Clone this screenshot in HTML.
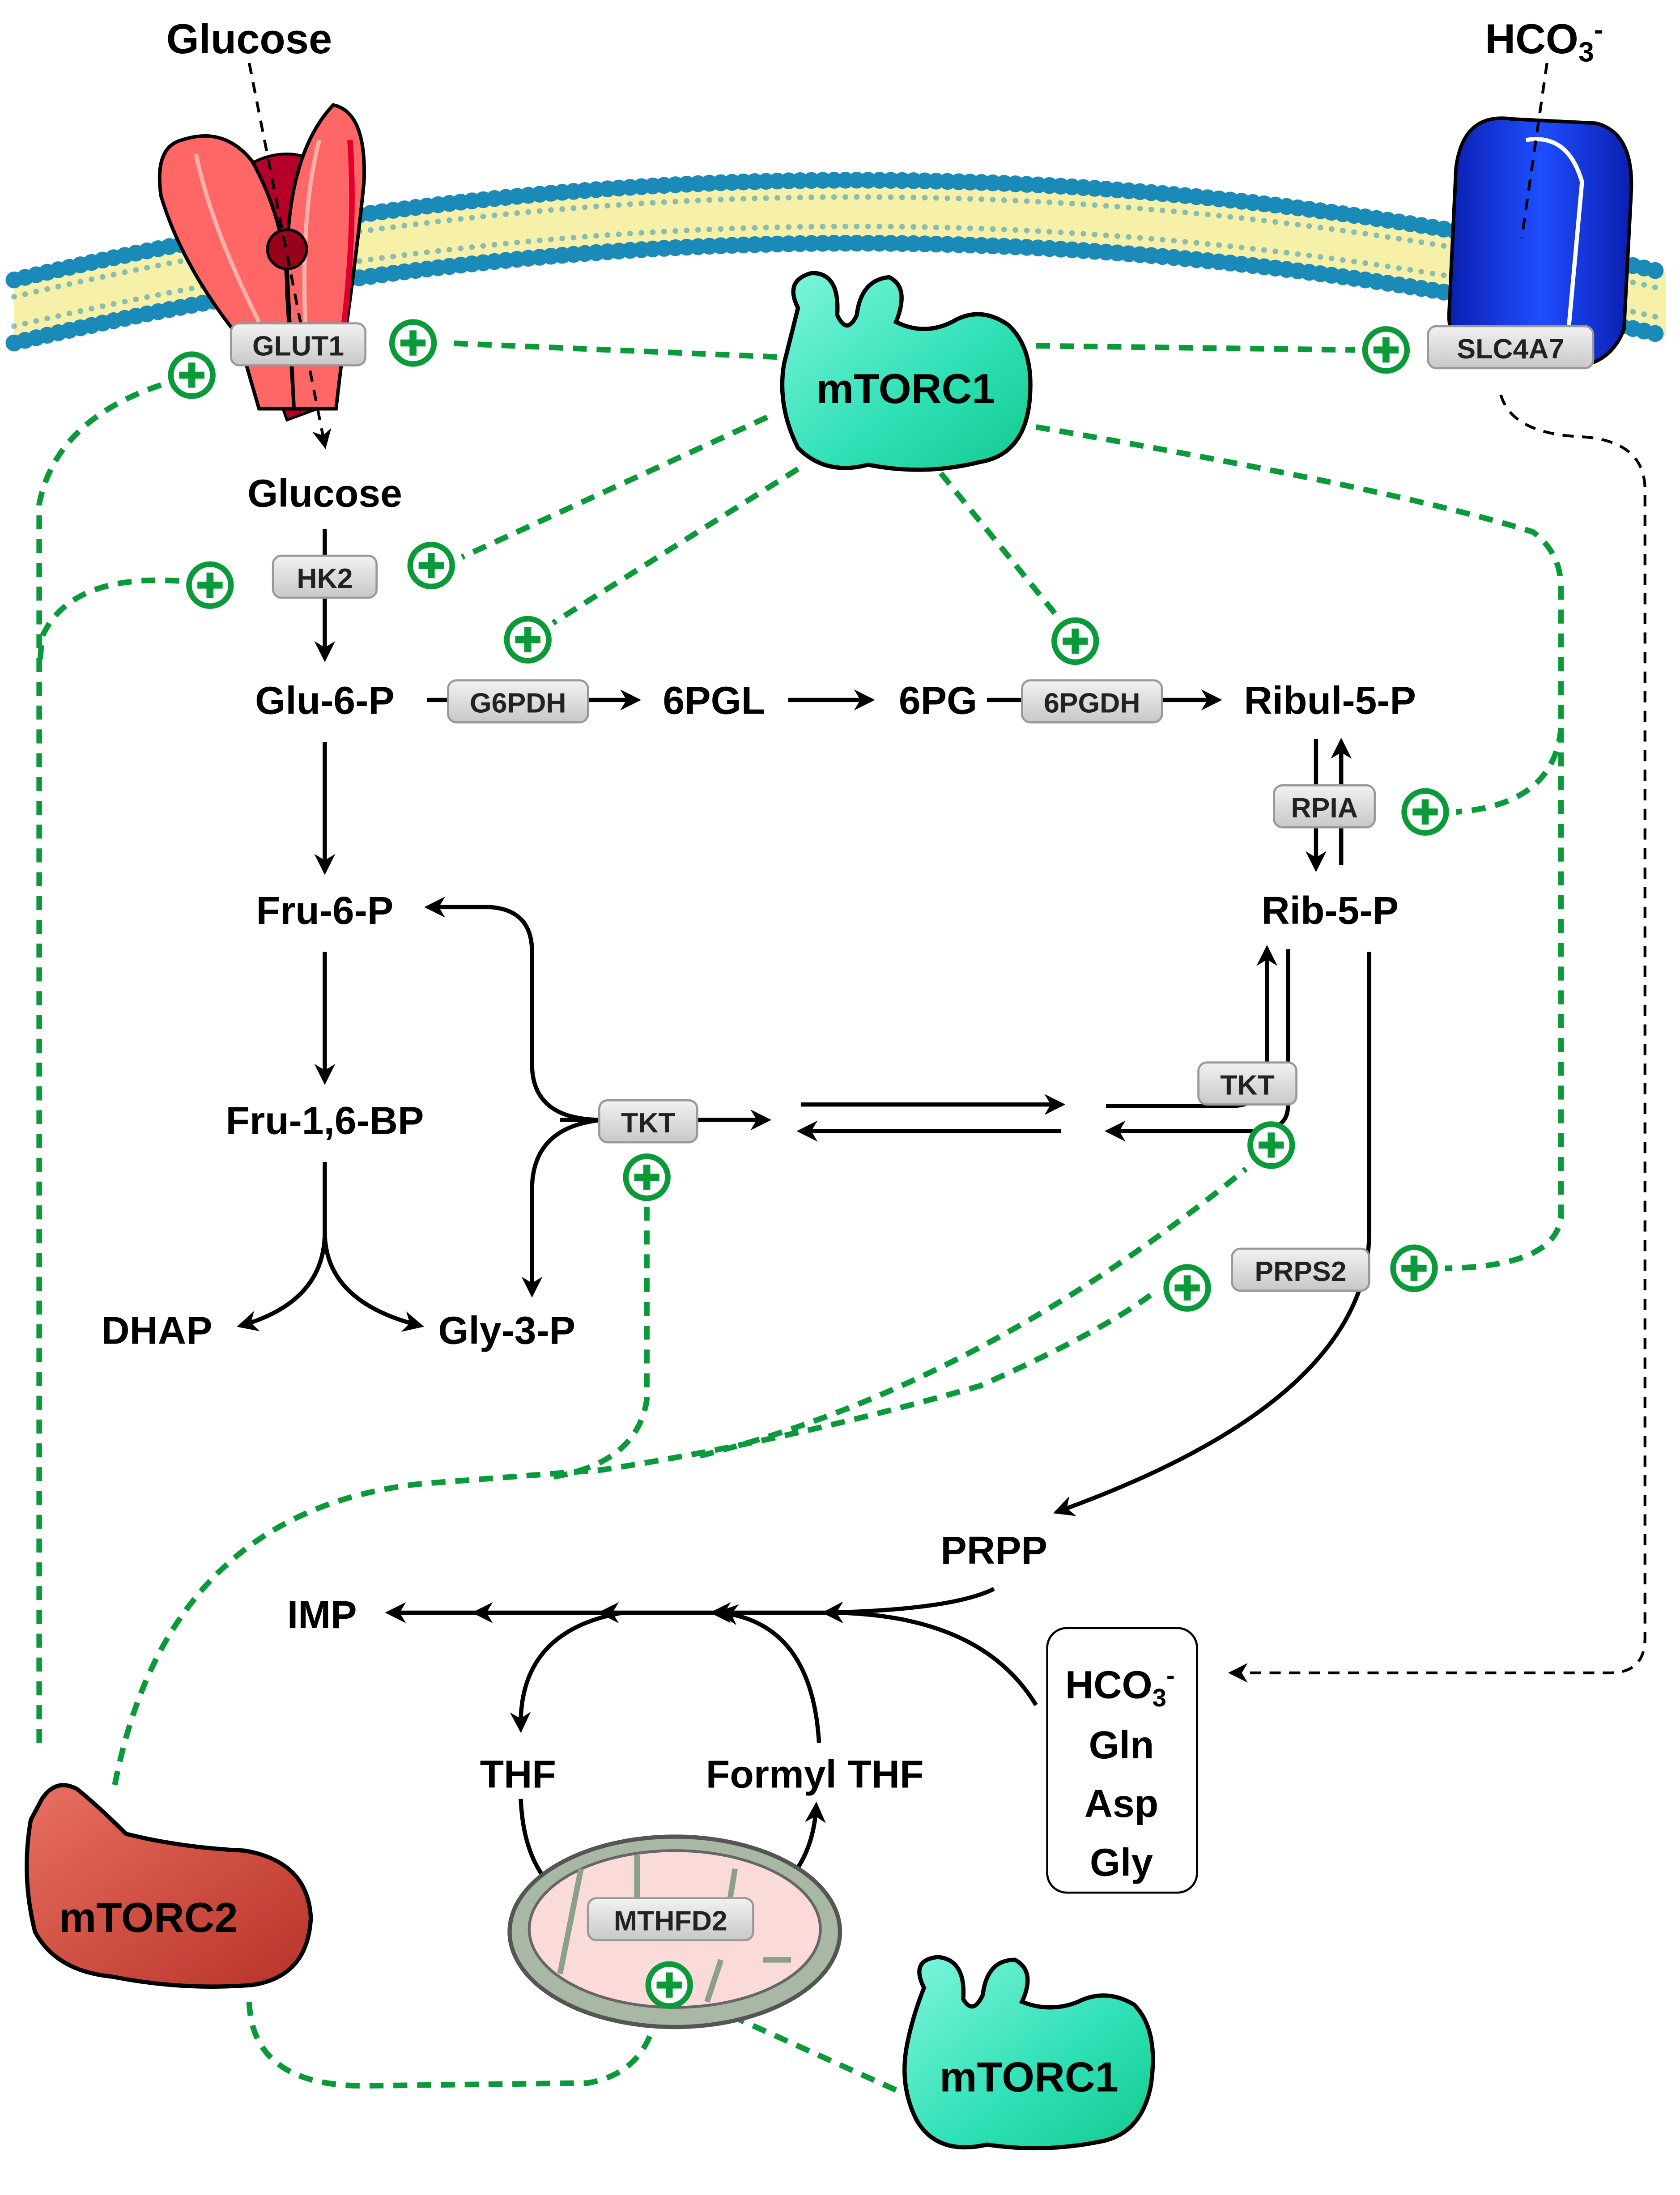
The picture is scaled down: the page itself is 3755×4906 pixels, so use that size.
<!DOCTYPE html>
<html><head><meta charset="utf-8"><style>
html,body{margin:0;padding:0;background:#fff}
svg{display:block}
text{font-family:"Liberation Sans",Arial,sans-serif;font-weight:bold}
</style></head><body>
<svg width="3755" height="4906" viewBox="0 0 1200 1568" preserveAspectRatio="none" xmlns="http://www.w3.org/2000/svg">
<defs>
<marker id="ah" viewBox="0 0 10 10" refX="8" refY="5" markerWidth="5" markerHeight="5" orient="auto"><path d="M0,0 L10,5 L0,10 L3,5 z" fill="#000"/></marker>
<marker id="ahs" viewBox="0 0 10 10" refX="8" refY="5" markerWidth="7" markerHeight="7" orient="auto"><path d="M0,0 L10,5 L0,10 L3,5 z" fill="#000"/></marker>
<linearGradient id="gb" x1="0" y1="0" x2="0" y2="1"><stop offset="0" stop-color="#f2f2f2"/><stop offset="1" stop-color="#c8c8c8"/></linearGradient>
<linearGradient id="gt" x1="0" y1="0" x2="1" y2="1"><stop offset="0" stop-color="#7ff5dc"/><stop offset="0.6" stop-color="#2de0b5"/><stop offset="1" stop-color="#14c98f"/></linearGradient>
<linearGradient id="gr" x1="0" y1="0" x2="1" y2="1"><stop offset="0" stop-color="#e87060"/><stop offset="1" stop-color="#b83228"/></linearGradient>
<linearGradient id="gbl" x1="0" y1="0" x2="1" y2="0"><stop offset="0" stop-color="#0a1fb0"/><stop offset="0.5" stop-color="#1e4dff"/><stop offset="1" stop-color="#0a1fb0"/></linearGradient>
<g id="plus"><circle r="15" fill="#fff" stroke="#0a9a3a" stroke-width="4"/><path d="M-9,0 H9 M0,-9 V9" stroke="#0a9a3a" stroke-width="5"/></g>
</defs>

<!-- membrane -->
<path d="M10,200 Q600,60 1190,195 L1190,240 Q600,105 10,245 Z" fill="#f7f0a8"/>
<path d="M10,200 Q600,60 1190,195" fill="none" stroke="#1a8ab8" stroke-width="12" stroke-dasharray="0.1 8" stroke-linecap="round"/>
<path d="M10,245 Q600,105 1190,240" fill="none" stroke="#1a8ab8" stroke-width="12" stroke-dasharray="0.1 8" stroke-linecap="round"/>
<path d="M10,212 Q600,72 1190,207" fill="none" stroke="#1a8ab8" stroke-width="4" stroke-dasharray="0.1 8" stroke-linecap="round" opacity="0.5"/>
<path d="M10,233 Q600,93 1190,228" fill="none" stroke="#1a8ab8" stroke-width="4" stroke-dasharray="0.1 8" stroke-linecap="round" opacity="0.5"/>

<!-- GLUT1 -->
<path d="M150,145 Q175,110 205,110 Q235,110 240,150 L232,290 L205,300 Z" fill="#b5002a" stroke="#000" stroke-width="2"/>
<path d="M130,100 Q110,105 115,140 Q130,190 170,240 L185,292 L210,292 L205,210 Q205,160 180,115 Q160,90 130,100 Z" fill="#ff6666" stroke="#000" stroke-width="2.5"/>
<path d="M238,75 Q262,80 260,130 Q255,180 245,250 L240,292 L210,292 L205,190 Q205,110 238,75 Z" fill="#ff6666" stroke="#000" stroke-width="2.5"/>
<path d="M140,110 Q150,160 185,230" fill="none" stroke="#ffb0a8" stroke-width="3"/>
<path d="M228,100 Q215,150 218,230" fill="none" stroke="#ffb0a8" stroke-width="3"/>
<path d="M250,100 Q255,170 242,260" fill="none" stroke="#e00030" stroke-width="4"/>
<circle cx="205" cy="178" r="14" fill="#99001c" stroke="#000" stroke-width="2"/>
<path d="M178,45 L232,318" stroke="#000" stroke-width="2" stroke-dasharray="8 6" marker-end="url(#ahs)"/>

<!-- SLC4A7 -->
<path d="M1040,120 Q1045,80 1080,85 L1140,88 Q1168,95 1165,140 L1160,235 Q1150,262 1120,262 L1065,262 Q1035,255 1035,225 Z" fill="url(#gbl)" stroke="#000" stroke-width="2.5"/>
<path d="M1090,100 Q1120,95 1130,130 L1120,240" fill="none" stroke="#fff" stroke-width="3"/>
<path d="M1105,45 L1087,170" stroke="#000" stroke-width="2" stroke-dasharray="8 6"/>
<path d="M1072,282 Q1080,310 1130,312 Q1175,315 1175,350 L1175,1170 Q1175,1195 1150,1195 L880,1195" fill="none" stroke="#000" stroke-width="2" stroke-dasharray="8 6" marker-end="url(#ahs)"/>

<text x="178" y="38" font-size="30" text-anchor="middle">Glucose</text>
<text x="1103" y="38" font-size="30" text-anchor="middle">HCO<tspan font-size="20" dy="6">3</tspan><tspan font-size="20" dy="-16">-</tspan></text>

<!-- green dashed -->
<g fill="none" stroke="#0a9a3a" stroke-width="4" stroke-dasharray="10 7">
<path d="M555,255 L318,245"/>
<path d="M740,247 L968,250"/>
<path d="M115,275 Q40,300 28,360 L28,1245"/>
<path d="M128,415 Q50,410 30,455 L28,480"/>
<path d="M548,298 L330,398"/>
<path d="M570,335 L395,445"/>
<path d="M672,338 L755,440"/>
<path d="M740,305 Q1000,350 1095,380 Q1115,395 1115,420 L1115,870 Q1110,905 1032,906"/>
<path d="M1115,520 Q1110,575 1040,580"/>
<path d="M82,1275 Q120,1080 300,1060 L430,1050 Q560,1030 700,990 Q790,950 826,922"/>
<path d="M462,862 L462,1000 Q455,1045 395,1055"/>
<path d="M500,1040 Q700,990 890,835"/>
<path d="M178,1430 Q180,1490 260,1490 L420,1488 Q465,1480 470,1430"/>
<path d="M640,1493 L500,1430"/>
</g>

<!-- black arrows -->
<g fill="none" stroke="#000" stroke-width="3" marker-end="url(#ah)">
<path d="M232,378 L232,470"/>
<path d="M232,530 L232,622"/>
<path d="M232,680 L232,772"/>
<path d="M232,830 L232,880 Q232,930 172,947"/>
<path d="M232,880 Q232,930 300,947"/>
<path d="M305,500 L455,500"/>
<path d="M563,500 L622,500"/>
<path d="M705,500 L870,500"/>
<path d="M940,528 L940,620"/>
<path d="M958,618 L958,530"/>
<path d="M400,800 L548,800"/>
<path d="M430,800 Q380,800 380,760 L380,680 Q380,650 350,648 L306,648"/>
<path d="M430,800 Q380,805 380,850 L380,924"/>
<path d="M572,789 L758,789"/>
<path d="M758,808 L572,808"/>
<path d="M790,790 L880,790 Q905,790 905,760 L905,678"/>
<path d="M920,678 L920,790 Q920,808 895,808 L792,808"/>
<path d="M978,680 L978,880 Q978,1000 755,1080"/>
<path d="M710,1135 Q680,1150 590,1152"/>
<path d="M740,1218 Q700,1152 590,1152"/>
<path d="M590,1152 L510,1152"/>
<path d="M510,1152 L430,1152"/>
<path d="M430,1152 L340,1152"/>
<path d="M340,1152 L278,1152"/>
<path d="M445,1152 Q370,1165 372,1235"/>
<path d="M585,1245 Q580,1160 515,1152"/>
<path d="M372,1285 Q375,1360 440,1370 L520,1370 Q580,1350 583,1290"/>
</g>

<!-- mitochondrion -->
<ellipse cx="482" cy="1380" rx="118" ry="68" fill="#a9b8a5" stroke="#555" stroke-width="3"/>
<ellipse cx="482" cy="1378" rx="104" ry="56" fill="#fbdada" stroke="#666" stroke-width="2"/>
<g stroke="#8aa08a" stroke-width="4" fill="none">
<path d="M400,1410 L415,1335"/><path d="M455,1325 L455,1360"/><path d="M525,1335 L520,1365"/><path d="M505,1430 L515,1400"/><path d="M545,1400 L565,1400"/>
</g>

<!-- protein blobs -->
<path d="M570,220 Q560,200 580,195 Q600,195 598,225 Q605,240 612,225 Q615,200 635,198 Q650,205 640,230 Q660,240 680,230 Q700,218 720,232 Q740,250 735,290 Q730,325 700,330 Q660,340 620,332 Q590,340 570,320 Q555,290 560,260 Q565,240 570,220 Z" fill="url(#gt)" stroke="#000" stroke-width="3"/>
<text x="647" y="288" font-size="30" text-anchor="middle">mTORC1</text>
<path d="M660,1420 Q650,1400 670,1398 Q690,1400 688,1428 Q695,1440 702,1425 Q705,1400 725,1400 Q740,1408 730,1430 Q750,1438 770,1430 Q790,1420 810,1432 Q828,1450 822,1490 Q815,1525 785,1530 Q745,1538 705,1532 Q670,1540 655,1515 Q642,1490 648,1460 Q652,1440 660,1420 Z" fill="url(#gt)" stroke="#000" stroke-width="3"/>
<text x="735" y="1494" font-size="30" text-anchor="middle">mTORC1</text>
<path d="M30,1285 Q40,1270 55,1278 Q70,1290 90,1310 Q130,1320 175,1322 Q220,1330 222,1370 Q220,1412 180,1418 Q130,1422 80,1412 Q40,1408 25,1380 Q15,1340 22,1300 Z" fill="url(#gr)" stroke="#000" stroke-width="3"/>
<text x="106" y="1380" font-size="30" text-anchor="middle">mTORC2</text>

<!-- labels -->
<g font-size="28" text-anchor="middle">
<text x="232" y="362">Glucose</text>
<text x="232" y="510">Glu-6-P</text>
<text x="510" y="510">6PGL</text>
<text x="670" y="510">6PG</text>
<text x="950" y="510">Ribul-5-P</text>
<text x="950" y="660">Rib-5-P</text>
<text x="232" y="660">Fru-6-P</text>
<text x="232" y="810">Fru-1,6-BP</text>
<text x="112" y="960">DHAP</text>
<text x="362" y="960">Gly-3-P</text>
<text x="710" y="1117">PRPP</text>
<text x="230" y="1163">IMP</text>
<text x="370" y="1277">THF</text>
<text x="582" y="1277">Formyl THF</text>
</g>
<rect x="748" y="1163" width="107" height="189" rx="14" fill="#fff" stroke="#000" stroke-width="1.5"/>
<g font-size="28" text-anchor="middle">
<text x="800" y="1213">HCO<tspan font-size="18" dy="6">3</tspan><tspan font-size="18" dy="-16">-</tspan></text>
<text x="801" y="1256">Gln</text>
<text x="801" y="1298">Asp</text>
<text x="801" y="1340">Gly</text>
</g>

<!-- enzyme boxes -->
<g font-size="20" text-anchor="middle" fill="#222">
<rect x="165" y="231" width="96" height="30" rx="6" fill="url(#gb)" stroke="#999" stroke-width="1.5"/><text x="213" y="254">GLUT1</text>
<rect x="1020" y="233" width="118" height="30" rx="6" fill="url(#gb)" stroke="#999" stroke-width="1.5"/><text x="1079" y="256">SLC4A7</text>
<rect x="195" y="397" width="74" height="30" rx="6" fill="url(#gb)" stroke="#999" stroke-width="1.5"/><text x="232" y="420">HK2</text>
<rect x="320" y="486" width="100" height="30" rx="6" fill="url(#gb)" stroke="#999" stroke-width="1.5"/><text x="370" y="509">G6PDH</text>
<rect x="730" y="486" width="100" height="30" rx="6" fill="url(#gb)" stroke="#999" stroke-width="1.5"/><text x="780" y="509">6PGDH</text>
<rect x="910" y="561" width="72" height="30" rx="6" fill="url(#gb)" stroke="#999" stroke-width="1.5"/><text x="946" y="584">RPIA</text>
<rect x="428" y="786" width="70" height="30" rx="6" fill="url(#gb)" stroke="#999" stroke-width="1.5"/><text x="463" y="809">TKT</text>
<rect x="856" y="759" width="70" height="30" rx="6" fill="url(#gb)" stroke="#999" stroke-width="1.5"/><text x="891" y="782">TKT</text>
<rect x="880" y="892" width="98" height="30" rx="6" fill="url(#gb)" stroke="#999" stroke-width="1.5"/><text x="929" y="915">PRPS2</text>
<rect x="420" y="1356" width="118" height="30" rx="6" fill="url(#gb)" stroke="#999" stroke-width="1.5"/><text x="479" y="1379">MTHFD2</text>
</g>

<!-- plus signs -->
<use href="#plus" x="295" y="245"/><use href="#plus" x="137" y="268"/><use href="#plus" x="990" y="250"/>
<use href="#plus" x="308" y="404"/><use href="#plus" x="150" y="418"/><use href="#plus" x="377" y="457"/>
<use href="#plus" x="768" y="458"/><use href="#plus" x="1018" y="580"/><use href="#plus" x="462" y="841"/>
<use href="#plus" x="908" y="818"/><use href="#plus" x="848" y="920"/><use href="#plus" x="1010" y="906"/>
<use href="#plus" x="478" y="1418"/>
</svg>
</body></html>
